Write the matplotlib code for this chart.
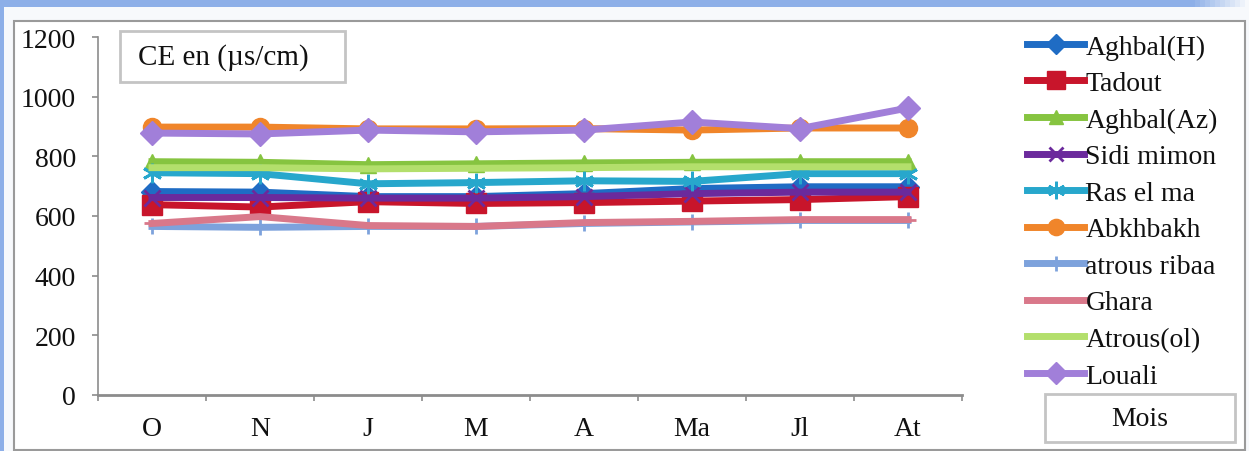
import matplotlib
matplotlib.use("Agg")
import matplotlib.pyplot as plt
from matplotlib.patches import Rectangle
import numpy as np

# Monthly electrical conductivity per spring
months = ["O", "N", "J", "M", "A", "Ma", "Jl", "At"]

aghbal_h = [682, 680, 665, 665, 675, 692, 698, 698]
tadout = [638, 630, 648, 642, 645, 650, 655, 665]
aghbal_az = [782, 780, 772, 775, 778, 780, 782, 782]
sidi_mimon = [662, 662, 660, 660, 665, 675, 680, 680]
ras_el_ma = [745, 742, 708, 712, 718, 716, 742, 742]
abkhbakh = [898, 898, 892, 892, 893, 888, 895, 895]
atrous_ribaa = [565, 562, 565, 565, 575, 580, 585, 585]
ghara = [575, 598, 568, 565, 578, 582, 588, 588]
atrous_ol = [762, 762, 758, 760, 762, 765, 765, 765]
louali = [878, 875, 888, 882, 888, 915, 893, 962]

series = [
    ("Aghbal(H)", aghbal_h, "#1F6CC4", "D", 11),
    ("Tadout", tadout, "#C8152B", "s", 14),
    ("Aghbal(Az)", aghbal_az, "#86C440", "^", 11),
    ("Sidi mimon", sidi_mimon, "#6B2A9C", "x", 11),
    ("Ras el ma", ras_el_ma, "#27A7CC", (6, 2, 0), 14),
    ("Abkhbakh", abkhbakh, "#F0852A", "o", 13),
    ("atrous ribaa", atrous_ribaa, "#7DA2DC", "|", 12),
    ("Ghara", ghara, "#D9788A", "_", 12),
    ("Atrous(ol)", atrous_ol, "#B3DF6C", "None", 10),
    ("Louali", louali, "#A17FD9", "D", 12),
]

plt.rcParams["font.family"] = ["Liberation Serif", "DejaVu Serif"]

W, H = 1249, 452
FS = 20
fig = plt.figure(figsize=(W / 100, H / 100), dpi=100)
fig.patch.set_facecolor("#F7F9FC")


def fx(x):
    return x / W


def fy(y):
    return 1 - y / H


def box(x0, y0, x1, y1, z, **kw):
    fig.patches.append(Rectangle((fx(x0), fy(y1)), fx(x1 - x0), fy(y0) - fy(y1),
                                 transform=fig.transFigure, zorder=z, **kw))


# window decoration: blue strips and the white card
box(0, 0, 1190, 8, -3, facecolor="#8DAFE8", edgecolor="none")
for i, a in enumerate(np.linspace(1, 0, 12)):
    box(1190 + i * 5, 0, 1195 + i * 5, 8, -3, facecolor="#8DAFE8", alpha=a, edgecolor="none")
box(0, 0, 4, H, -3, facecolor="#8DAFE8", edgecolor="none")
box(14, 22, 1245, 451, -2, facecolor="white", edgecolor="#9A9A9A", linewidth=1.5)

ax = fig.add_axes([fx(98), fy(396), fx(962 - 98), fy(38) - fy(396)])
ax.set_zorder(3)
ax.set_facecolor("none")
x = np.arange(len(months))
for name, vals, color, marker, ms in series:
    mew = 2 if marker in ("x", "|", "_", (6, 2, 0)) else 1
    ax.plot(x, vals, color=color, linewidth=5, marker=marker, markersize=ms,
            markeredgewidth=mew, markeredgecolor=color, markerfacecolor=color,
            label=name, solid_joinstyle="round")

ax.set_xlim(-0.5, len(months) - 0.5)
ax.set_ylim(0, 1200)
ax.set_yticks(range(0, 1201, 200))
ax.set_xticks(x)
ax.set_xticklabels(months)
ax.set_xticks(np.arange(-0.5, len(months), 1), minor=True)
ax.tick_params(axis="x", which="major", length=0, pad=15, labelsize=FS, colors="#111111")
ax.tick_params(axis="x", which="minor", length=4, width=1.2, color="#8C8C8C", direction="out")
ax.tick_params(axis="y", length=4, width=1.2, color="#8C8C8C", pad=12, labelsize=FS,
               labelcolor="#111111")
for s in ("top", "right"):
    ax.spines[s].set_visible(False)
ax.spines["left"].set_color("#8C8C8C")
ax.spines["left"].set_linewidth(1.2)
ax.spines["bottom"].set_color("#8C8C8C")
ax.spines["bottom"].set_linewidth(2)

# title box
box(120, 32, 345, 83, 1, facecolor="white", edgecolor="#C4C4C4", linewidth=2)
fig.text(fx(138), fy(58), "CE en (µs/cm)", fontsize=FS + 1, va="center", ha="left",
         color="#111111")

# x-axis name box
box(1045, 395, 1235, 443, 1, facecolor="white", edgecolor="#C4C4C4", linewidth=2)
fig.text(fx(1140), fy(420), "Mois", fontsize=FS, va="center", ha="center", color="#111111")

handles, labels = ax.get_legend_handles_labels()
leg = fig.legend(handles, labels, loc="upper left", bbox_to_anchor=(fx(1016), fy(24)),
                 frameon=False, fontsize=FS, handlelength=2.05, handletextpad=0.05,
                 labelspacing=0.4, markerscale=0.9, borderaxespad=0)
for t in leg.get_texts():
    t.set_color("#111111")

fig.savefig("out.png", dpi=100, facecolor=fig.get_facecolor())
